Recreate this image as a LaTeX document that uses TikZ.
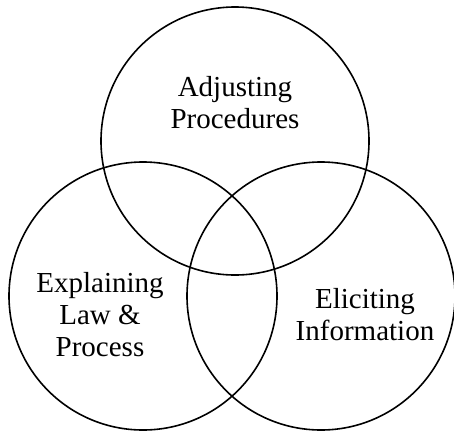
\documentclass[tikz,border=0pt]{standalone}
\usepackage{fontspec}
\setmainfont{Liberation Serif}
\begin{document}
\begin{tikzpicture}[x=1pt,y=-1pt]
            \useasboundingbox (0,0) rectangle (454,434);
            \begin{scope}[every node/.style={circle,draw,line width=1.6pt,minimum size=268pt,inner sep=0pt}]
                \node (adj) at (235,141) {};
                \node (expl) at (143,296) {};
                \node (elic) at (321,296) {};
            \end{scope}
            \begin{scope}[every node/.style={align=center,font=\fontsize{29}{32}\selectfont}]
                \node (adjlabel) at (235,103) {Adjusting\\Procedures};
                \node (expllabel) at (100,315) {Explaining\\Law \&\\Process};
                \node (eliclabel) at (365,315) {Eliciting\\Information};
            \end{scope}
        \end{tikzpicture}
\end{document}
